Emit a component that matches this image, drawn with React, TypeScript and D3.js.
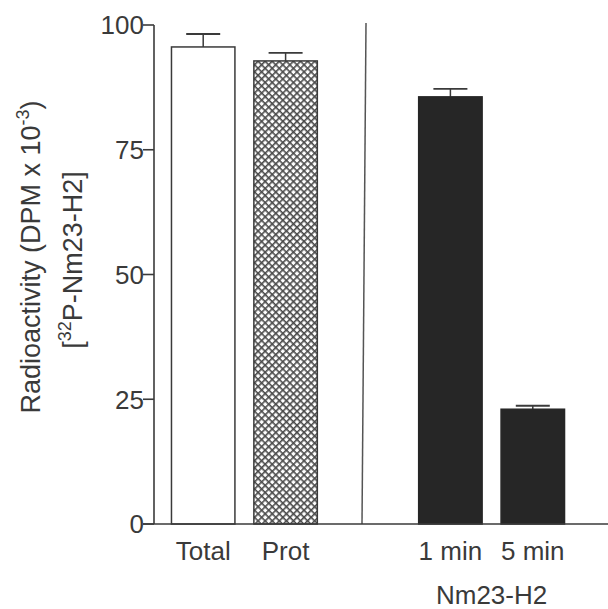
import React from 'react';
import * as d3 from 'd3';

// slots along the x axis; "gap" holds the divider line between the two groups
const slots = ['Total', 'Prot', 'gap', '1 min', '5 min'];
const categories = ['Total', 'Prot', '1 min', '5 min'];
const values = [95.6, 92.8, 85.6, 23.0];
const errors = [2.6, 1.6, 1.6, 0.7];
const fills = ['white', 'hatch', 'black', 'black'];
const yTicks = [0, 25, 50, 75, 100];
const groupLabel = 'Nm23-H2';

const W = 608;
const H = 609;
const ink = '#3a3a3a';
const font = "'Liberation Sans', Arial, Helvetica, sans-serif";

const App = () => {
    const y = d3.scaleLinear().domain([0, 100]).range([524, 25]);
    const x = d3.scaleBand<string>()
        .domain(slots)
        .range([162, 574])
        .paddingInner(0.23)
        .paddingOuter(0.115);
    const bw = x.bandwidth();
    const axisX = 154;
    const dividerX = (x('gap') as number) + bw / 2 - 4;
    const capHalf = 17;

    const fillFor = (f: string) => (f === 'white' ? '#fff' : f === 'hatch' ? 'url(#xhatch)' : '#262626');

    return (
        <svg width={W} height={H} style={{ position: 'absolute', left: 0, top: 0, background: '#fff' }}
            fontFamily={font}>
            <defs>
                <pattern id="xhatch" width="5" height="5" patternUnits="userSpaceOnUse" patternTransform="rotate(45)">
                    <rect width="5" height="5" fill="#fff" />
                    <rect width="5" height="1.6" fill="#4a4a4a" />
                    <rect width="1.6" height="5" fill="#4a4a4a" />
                </pattern>
            </defs>

            {/* bars */}
            {categories.map((c, i) => {
                const bx = x(c) as number;
                const top = y(values[i]);
                const cx = bx + bw / 2;
                const et = y(values[i] + errors[i]);
                return (
                    <g key={c}>
                        <line x1={cx} x2={cx} y1={top} y2={et} stroke={ink} strokeWidth={1.5} />
                        <line x1={cx - capHalf} x2={cx + capHalf} y1={et} y2={et} stroke={ink} strokeWidth={1.8} />
                        <rect x={bx} y={top} width={bw} height={y(0) - top}
                            fill={fillFor(fills[i])} stroke={fills[i] === 'black' ? '#262626' : ink} strokeWidth={1.5} />
                        <text x={cx} y={560} textAnchor="middle" fontSize={26} fill={ink}>{c}</text>
                    </g>
                );
            })}

            {/* divider */}
            <line x1={dividerX + 2} x2={dividerX - 2} y1={23} y2={y(0)} stroke="#555" strokeWidth={1.5} />

            {/* y axis */}
            <line x1={axisX} x2={axisX} y1={y(100)} y2={y(0)} stroke={ink} strokeWidth={1.6} />
            {yTicks.map(t => (
                <g key={t}>
                    <line x1={axisX - 11} x2={axisX} y1={y(t)} y2={y(t)} stroke={ink} strokeWidth={1.6} />
                    <text x={axisX - 10} y={y(t)} dy="0.36em" textAnchor="end" fontSize={26} fill={ink}>{t}</text>
                </g>
            ))}

            {/* x axis */}
            <line x1={axisX - 11} x2={W} y1={y(0)} y2={y(0)} stroke={ink} strokeWidth={1.6} />

            {/* group label */}
            <text x={((x('1 min') as number) + (x('5 min') as number) + bw) / 2} y={604}
                textAnchor="middle" fontSize={26} fill={ink}>{groupLabel}</text>

            {/* y axis title */}
            <g transform="translate(40,257) rotate(-90)">
                <text textAnchor="middle" fontSize={27} fill={ink}>
                    Radioactivity (DPM x 10<tspan fontSize={18} dy={-11}>-3</tspan><tspan dy={11}>)</tspan>
                </text>
            </g>
            <g transform="translate(82,260) rotate(-90)">
                <text textAnchor="middle" fontSize={27} fill={ink}>
                    [<tspan fontSize={18} dy={-11}>32</tspan><tspan dy={11}>P-Nm23-H2]</tspan>
                </text>
            </g>
        </svg>
    );
};

export default App;
